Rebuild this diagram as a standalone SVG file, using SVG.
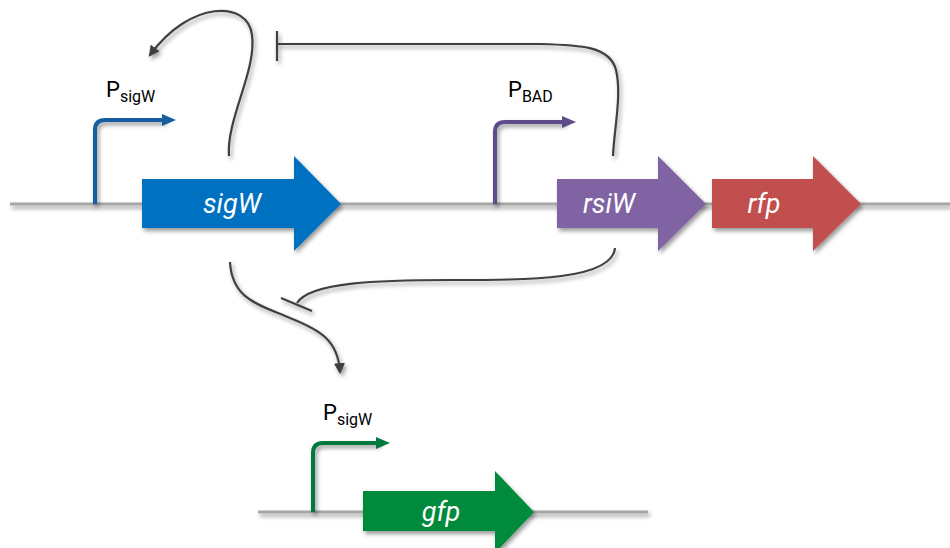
<svg xmlns="http://www.w3.org/2000/svg" width="950" height="548" viewBox="0 0 950 548">
<style>
.bb{stroke:#a6a6a6;stroke-width:3;fill:none}
.prom{fill:none;stroke-width:4;stroke-linejoin:round}
.gene text{font-family:Roboto,"Liberation Sans",sans-serif;font-style:italic;font-size:27px;fill:#fff;text-anchor:middle}
.lbl{font-family:Roboto,"Liberation Sans",sans-serif;font-size:22px;fill:#000}
.lbl tspan.s{font-size:16px}
.conn path{fill:none;stroke:#404040;stroke-width:2.2}
</style>
<defs>
<filter id="sh" x="-10%" y="-10%" width="130%" height="140%">
<feDropShadow dx="2" dy="3" stdDeviation="2" flood-color="#000" flood-opacity="0.4"/>
</filter>
<marker id="ah" viewBox="0 0 10 10" refX="8" refY="5" markerWidth="11" markerHeight="11" markerUnits="userSpaceOnUse" orient="auto">
<path d="M0,0 L10,5 L0,10 z" fill="#404040"/>
</marker>
</defs>
<rect width="950" height="548" fill="#fff"/>
<g id="backbones" filter="url(#sh)">
<line class="bb" x1="10" y1="204" x2="950" y2="204"/>
<line class="bb" x1="258" y1="512" x2="648" y2="512"/>
</g>
<g id="PsigW1">
<path class="prom" d="M95,204 V130 Q95,120 105,120 H165" stroke="#165f9e" filter="url(#sh)"/>
<path d="M162,114 L176,120 L162,126 z" fill="#165f9e"/>
<text class="lbl" x="106" y="97">P<tspan class="s" dy="5">sigW</tspan></text>
</g>
<g id="PBAD">
<path class="prom" d="M495,204 V132 Q495,122 505,122 H565" stroke="#5f4b8b" filter="url(#sh)"/>
<path d="M562,116 L576,122 L562,128 z" fill="#5f4b8b"/>
<text class="lbl" x="508" y="97">P<tspan class="s" dy="5">BAD</tspan></text>
</g>
<g id="PsigW2">
<path class="prom" d="M313,512 V453 Q313,443 323,443 H379" stroke="#007a3d" filter="url(#sh)"/>
<path d="M376,437 L390,443 L376,449 z" fill="#007a3d"/>
<text class="lbl" x="323" y="420">P<tspan class="s" dy="5">sigW</tspan></text>
</g>
<g id="sigW" class="gene">
<path d="M142,179 H294 V156 L341,204 L294,251 V228 H142 z" fill="#0070c0" filter="url(#sh)"/>
<text x="232" y="213">sigW</text>
</g>
<g id="rsiW" class="gene">
<path d="M557,179 H658 V156 L706,204 L658,251 V228 H557 z" fill="#8064a2" filter="url(#sh)"/>
<text x="609" y="213">rsiW</text>
</g>
<g id="rfp" class="gene">
<path d="M712,179 H813 V156 L861,204 L813,251 V228 H712 z" fill="#c0504d" filter="url(#sh)"/>
<text x="764" y="213">rfp</text>
</g>
<g id="gfp" class="gene">
<path d="M363,491 H495 V471 L534,512 L495,553 V531 H363 z" fill="#008a3a" filter="url(#sh)"/>
<text x="441" y="521">gfp</text>
</g>
<g id="connectors" class="conn" filter="url(#sh)">
<path d="M229,156 C226,120 257,70 252,35 C248,0 190,0 150,55" marker-end="url(#ah)"/>
<path d="M613,156 C614,130 622,95 616,70 C610,46 580,45 540,44 L277,44"/>
<path d="M277,31 V61"/>
<path d="M230,262 C232,300 260,305 290,318 C320,330 338,340 340,372" marker-end="url(#ah)"/>
<path d="M615,248 C612,280 530,280 450,280 C380,280 310,282 297,303"/>
<path d="M281,298 L312,311"/>
</g>
</svg>
